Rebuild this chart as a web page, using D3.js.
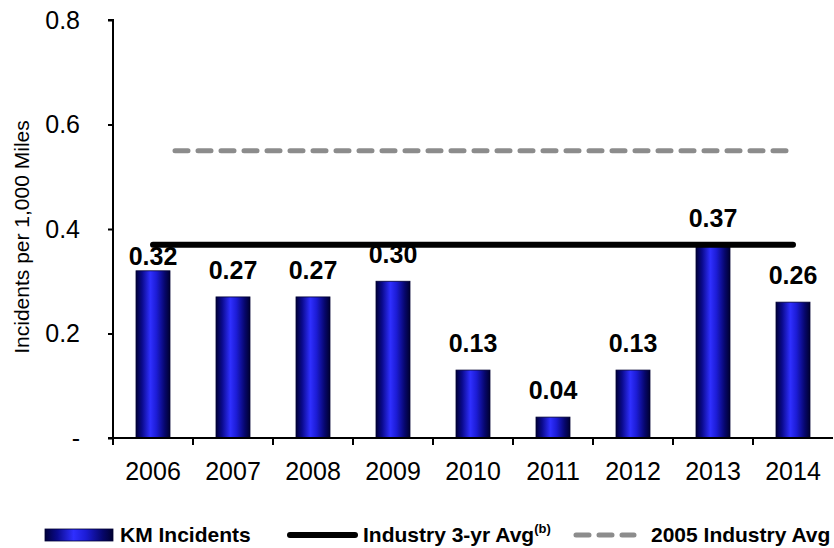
<!DOCTYPE html>
<html>
<head>
<meta charset="utf-8">
<script src="https://cdn.jsdelivr.net/npm/d3@7"></script>
<style>
  html, body { margin: 0; padding: 0; background: #fff; }
  svg { display: block; font-family: "Liberation Sans", Arial, Helvetica, sans-serif; }
</style>
</head>
<body>
<svg id="chart" width="834" height="548"></svg>
<script>
// KM incidents per 1,000 miles, by year
const years = ["2006", "2007", "2008", "2009", "2010", "2011", "2012", "2013", "2014"];
const kmIncidents = [0.32, 0.27, 0.27, 0.30, 0.13, 0.04, 0.13, 0.37, 0.26];
const industry3yrAvg = 0.37;
const industry2005Avg = 0.55;
const yTicks = [0, 0.2, 0.4, 0.6, 0.8];
const yTickLabels = ["-", "0.2", "0.4", "0.6", "0.8"];

// label offsets above bar tops (2006 sits closer to its bar)
const labelGap = 18;
const labelGapOverrides = { "2006": 6 };

const svg = d3.select("#chart");
const plot = { left: 113, right: 833, top: 20, bottom: 438 };

const x = d3.scaleBand()
  .domain(years)
  .range([plot.left, plot.right])
  .paddingInner(0.575)
  .paddingOuter(0.2875);

const y = d3.scaleLinear()
  .domain([0, 0.8])
  .range([plot.bottom, plot.top]);

// cylinder-style shading for bars
const defs = svg.append("defs");
const grad = defs.append("linearGradient")
  .attr("id", "barShade")
  .attr("x1", "0%").attr("x2", "100%").attr("y1", "0%").attr("y2", "0%");
[["0%", "#00003a"], ["18%", "#0a0a8c"], ["42%", "#2f2fff"], ["60%", "#1c1cd6"], ["85%", "#06066a"], ["100%", "#000030"]]
  .forEach(([o, c]) => grad.append("stop").attr("offset", o).attr("stop-color", c));

// bars
svg.append("g").selectAll("rect")
  .data(years)
  .join("rect")
  .attr("x", d => x(d))
  .attr("y", (d, i) => y(kmIncidents[i]))
  .attr("width", x.bandwidth())
  .attr("height", (d, i) => y(0) - y(kmIncidents[i]))
  .attr("fill", "url(#barShade)")
  .attr("stroke", "#000033")
  .attr("stroke-width", 0.8);

// reference lines, spanning first to last category centre
const xFirst = x(years[0]) + x.bandwidth() / 2;
const xLast = x(years[years.length - 1]) + x.bandwidth() / 2;

svg.append("line")
  .attr("x1", xFirst + 22).attr("x2", xLast - 4)
  .attr("y1", y(industry2005Avg)).attr("y2", y(industry2005Avg))
  .attr("stroke", "#8c8c8c")
  .attr("stroke-width", 5)
  .attr("stroke-linecap", "round")
  .attr("stroke-dasharray", "13 10");

svg.append("line")
  .attr("x1", xFirst).attr("x2", xLast)
  .attr("y1", y(industry3yrAvg)).attr("y2", y(industry3yrAvg))
  .attr("stroke", "#000")
  .attr("stroke-width", 6)
  .attr("stroke-linecap", "round");

// value labels
svg.append("g").selectAll("text")
  .data(years)
  .join("text")
  .attr("x", d => x(d) + x.bandwidth() / 2)
  .attr("y", (d, i) => y(kmIncidents[i]) - (labelGapOverrides[d] ?? labelGap))
  .attr("text-anchor", "middle")
  .attr("font-size", 25)
  .attr("font-weight", "bold")
  .attr("fill", "#000")
  .text((d, i) => kmIncidents[i].toFixed(2));

// y axis
const yAxis = d3.axisLeft(y)
  .tickValues(yTicks)
  .tickFormat((d, i) => yTickLabels[i])
  .tickSize(5)
  .tickPadding(28);
const gy = svg.append("g")
  .attr("transform", `translate(${plot.left},0)`)
  .call(yAxis);
gy.select(".domain").attr("stroke", "#000").attr("stroke-width", 2)
  .attr("d", `M-5,${plot.top}H0V${plot.bottom}`);
gy.selectAll(".tick line").attr("stroke", "#000").attr("stroke-width", 2);
gy.selectAll(".tick text")
  .attr("font-size", 25)
  .attr("font-family", "'Liberation Sans', Arial, sans-serif")
  .attr("fill", "#000");

// x axis
const xAxis = d3.axisBottom(x).tickSize(0).tickPadding(24);
const gx = svg.append("g")
  .attr("transform", `translate(0,${plot.bottom})`)
  .call(xAxis);
gx.select(".domain").attr("stroke", "#000").attr("stroke-width", 2)
  .attr("d", `M${plot.left - 5},0H${plot.right}`);
gx.selectAll(".tick text")
  .attr("font-size", 25)
  .attr("font-family", "'Liberation Sans', Arial, sans-serif")
  .attr("fill", "#000");
// category boundary ticks
gx.append("g").selectAll("line")
  .data(years)
  .join("line")
  .attr("x1", d => x(d) - x.step() * x.paddingOuter())
  .attr("x2", d => x(d) - x.step() * x.paddingOuter())
  .attr("y1", 0).attr("y2", 7)
  .attr("stroke", "#000").attr("stroke-width", 2);

// y axis title
svg.append("text")
  .attr("transform", `translate(29,${(plot.top + plot.bottom) / 2 + 8}) rotate(-90)`)
  .attr("text-anchor", "middle")
  .attr("font-size", 21)
  .attr("fill", "#000")
  .text("Incidents per 1,000 Miles");

// legend
const legY = 535;
const leg = svg.append("g").attr("font-size", 21).attr("font-weight", "bold");

leg.append("rect")
  .attr("x", 45).attr("y", legY - 6).attr("width", 68).attr("height", 12)
  .attr("fill", "url(#barShade)").attr("stroke", "#000033").attr("stroke-width", 0.8);
leg.append("text").attr("x", 120).attr("y", legY + 7).text("KM Incidents");

leg.append("line")
  .attr("x1", 290).attr("x2", 355).attr("y1", legY).attr("y2", legY)
  .attr("stroke", "#000").attr("stroke-width", 6).attr("stroke-linecap", "round");
const t2 = leg.append("text").attr("x", 363).attr("y", legY + 7);
t2.append("tspan").text("Industry 3-yr Avg");
t2.append("tspan").attr("font-size", 13).attr("dy", -9).text("(b)");

leg.append("line")
  .attr("x1", 576).attr("x2", 634).attr("y1", legY).attr("y2", legY)
  .attr("stroke", "#8c8c8c").attr("stroke-width", 5)
  .attr("stroke-linecap", "round").attr("stroke-dasharray", "13 10");
leg.append("text").attr("x", 651).attr("y", legY + 7).text("2005 Industry Avg");
</script>
</body>
</html>
